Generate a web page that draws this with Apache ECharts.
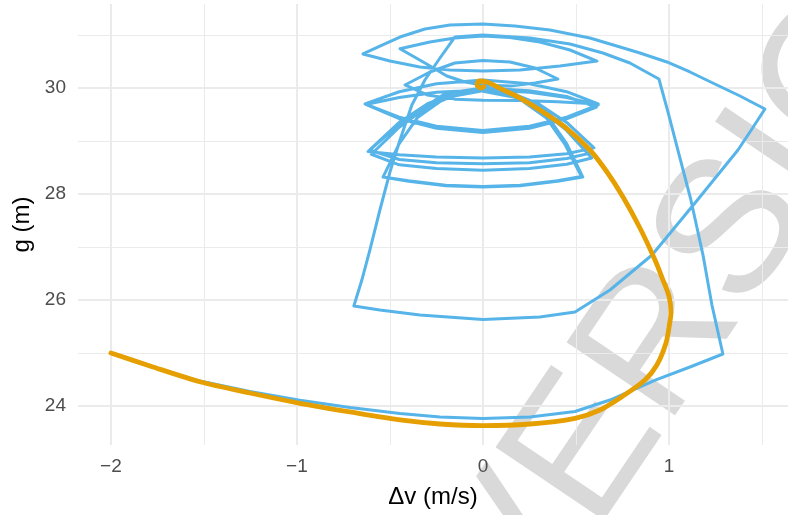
<!DOCTYPE html>
<html>
<head>
<meta charset="utf-8">
<script src="https://cdn.jsdelivr.net/npm/echarts@6/dist/echarts.min.js"></script>
<style>
  html, body { margin: 0; padding: 0; background: #ffffff; }
  #chart { width: 788px; height: 515px; }
</style>
</head>
<body>
<div id="chart"></div>
<script>
// Axis ticks and grid positions
const xTicks = [-2, -1, 0, 1];
const xMinor = [-1.5, -0.5, 0.5, 1.5];
const yTicks = [24, 26, 28, 30];
const yMinor = [23, 25, 27, 29, 31];

// Smooth trajectory (relative speed, gap)
const orangePath = [
  [-2.000, 25.000], [-1.790, 24.755], [-1.522, 24.458], [-1.253, 24.245],
  [-0.984, 24.051], [-0.715, 23.887], [-0.446, 23.736], [-0.231, 23.660],
  [0.000, 23.628], [0.253, 23.660], [0.495, 23.768], [0.629, 23.925],
  [0.753, 24.189], [0.871, 24.491], [0.935, 24.774], [0.984, 25.189],
  [1.005, 25.585], [1.011, 25.755], [1.000, 26.075], [0.968, 26.377],
  [0.925, 26.755], [0.844, 27.358], [0.753, 27.943], [0.667, 28.415],
  [0.575, 28.830], [0.441, 29.264], [0.306, 29.585], [0.199, 29.811],
  [0.091, 29.994], [0.022, 30.113], [-0.022, 30.132], [-0.032, 30.057],
  [-0.011, 30.000], [0.005, 30.028]
];

// Oscillating trajectory, split into its regimes
const blueApproach = [
  [-2.000, 25.000], [-1.790, 24.755], [-1.522, 24.470], [-1.253, 24.275],
  [-0.984, 24.108], [-0.715, 23.972], [-0.446, 23.858], [-0.231, 23.792],
  [0.000, 23.764], [0.253, 23.792], [0.495, 23.896], [0.683, 24.113],
  [0.930, 24.491], [1.113, 24.736], [1.290, 24.981]
];
const blueRise = [
  [1.231, 25.906], [1.183, 26.849], [1.118, 27.887], [1.048, 28.830],
  [0.995, 29.547], [0.946, 30.170]
];
const blueTopArc = [
  [0.790, 30.472], [0.645, 30.660], [0.468, 30.830], [0.253, 30.943],
  [0.000, 31.000], [-0.151, 30.962]
];
const blueDrop = [
  [-0.231, 30.566], [-0.312, 30.151], [-0.382, 29.679], [-0.446, 29.019],
  [-0.500, 28.415], [-0.554, 27.698], [-0.608, 26.943], [-0.651, 26.377],
  [-0.694, 25.887]
];
const blueLowArc = [
  [-0.554, 25.811], [-0.339, 25.717], [0.000, 25.632], [0.306, 25.679],
  [0.495, 25.774]
];
const blueClimb = [
  [0.683, 26.189], [0.909, 26.849], [1.140, 27.830], [1.371, 28.830],
  [1.446, 29.226], [1.516, 29.604]
];
const blueOuterArc = [
  [1.382, 29.849], [1.258, 30.057], [1.113, 30.302], [0.989, 30.491],
  [0.844, 30.660], [0.737, 30.774], [0.575, 30.943], [0.360, 31.094],
  [0.172, 31.170], [0.000, 31.208], [-0.177, 31.189], [-0.312, 31.113],
  [-0.446, 30.962], [-0.554, 30.792], [-0.645, 30.642]
];
// Upper lenses, shrinking toward the middle
const blueUpperLenses = [
  [-0.500, 30.509], [-0.339, 30.396], [-0.177, 30.340], [0.000, 30.321],
  [0.199, 30.340], [0.414, 30.415], [0.613, 30.509],
  [0.468, 30.717], [0.306, 30.868], [0.145, 30.953], [0.000, 30.981],
  [-0.151, 30.943], [-0.285, 30.868], [-0.446, 30.742],
  [-0.312, 30.472], [-0.194, 30.226], [-0.097, 30.113], [0.000, 30.057],
  [0.145, 30.038], [0.280, 30.094], [0.403, 30.170],
  [0.280, 30.377], [0.145, 30.491], [0.000, 30.519], [-0.151, 30.472],
  [-0.285, 30.302], [-0.419, 30.057],
  [-0.300, 29.870], [-0.150, 29.790], [0.000, 29.770], [0.200, 29.765],
  [0.400, 29.740], [0.620, 29.700],
  [0.450, 29.930], [0.250, 30.080], [0.000, 30.150], [-0.250, 30.080],
  [-0.450, 29.930], [-0.634, 29.700]
];
// Middle lenses
const blueMiddleLenses = [
  [-0.450, 29.450], [-0.250, 29.280], [0.000, 29.200], [0.250, 29.280],
  [0.450, 29.450], [0.620, 29.680],
  [0.450, 29.820], [0.250, 29.920], [0.000, 29.960], [-0.250, 29.920],
  [-0.450, 29.820], [-0.630, 29.690],
  [-0.450, 29.420], [-0.250, 29.240], [0.000, 29.160], [0.250, 29.240],
  [0.450, 29.420], [0.610, 29.640],
  [0.450, 29.840], [0.250, 29.950], [0.000, 30.000], [-0.200, 29.900],
  [-0.400, 29.450], [-0.520, 29.100], [-0.618, 28.800]
];
// Lower lenses and domes, settling into a repeating cycle
const blueLowerCycles = [
  [-0.450, 28.740], [-0.250, 28.700], [0.000, 28.680], [0.250, 28.700],
  [0.450, 28.760], [0.597, 28.870],
  [0.450, 29.350], [0.300, 29.700], [0.150, 29.910], [0.000, 29.980],
  [-0.150, 29.910], [-0.300, 29.700], [-0.450, 29.350], [-0.610, 28.830],
  [-0.450, 28.650], [-0.250, 28.590], [0.000, 28.570], [0.250, 28.590],
  [0.450, 28.670], [0.590, 28.780],
  [0.450, 29.260], [0.300, 29.640], [0.150, 29.870], [0.000, 29.950],
  [-0.150, 29.870], [-0.300, 29.640], [-0.450, 29.260], [-0.600, 28.750],
  [-0.450, 28.550], [-0.250, 28.480], [0.000, 28.450], [0.250, 28.480],
  [0.450, 28.560], [0.585, 28.680],
  [0.450, 29.200], [0.300, 29.620], [0.150, 29.870], [0.000, 29.960],
  [-0.200, 29.820], [-0.350, 29.450], [-0.450, 28.950], [-0.537, 28.320],
  [-0.400, 28.240], [-0.200, 28.155], [0.000, 28.130], [0.200, 28.155],
  [0.400, 28.240], [0.537, 28.320],
  [0.450, 28.950], [0.350, 29.450], [0.200, 29.820], [0.000, 29.950],
  [-0.200, 29.820], [-0.350, 29.450], [-0.450, 28.950], [-0.537, 28.320],
  [-0.400, 28.250], [-0.200, 28.165], [0.000, 28.140], [0.200, 28.165],
  [0.400, 28.250], [0.530, 28.330],
  [0.440, 28.940], [0.340, 29.440], [0.190, 29.810], [0.000, 29.940]
];

const bluePath = [].concat(blueApproach, blueRise, blueTopArc, blueDrop,
  blueLowArc, blueClimb, blueOuterArc, blueUpperLenses, blueMiddleLenses,
  blueLowerCycles);

const minus = v => String(v).replace('-', '\u2212');
const gridColor = '#ebebeb';

const gridLines = []
  .concat(xMinor.map(v => ({ xAxis: v, lineStyle: { width: 1 } })))
  .concat(yMinor.map(v => ({ yAxis: v, lineStyle: { width: 1 } })))
  .concat(xTicks.map(v => ({ xAxis: v, lineStyle: { width: 2 } })))
  .concat(yTicks.map(v => ({ yAxis: v, lineStyle: { width: 2 } })));

const chart = echarts.init(document.getElementById('chart'), null, { renderer: 'canvas' });
chart.setOption({
  animation: false,
  backgroundColor: '#ffffff',
  textStyle: { fontFamily: 'Liberation Sans, Arial, sans-serif' },
  grid: { left: 78, right: 0, top: 4, bottom: 70, containLabel: false },
  xAxis: {
    type: 'value', min: -2.177, max: 1.64, z: 5,
    axisLine: { show: false }, axisTick: { show: false },
    splitLine: { show: false },
    axisLabel: { customValues: xTicks, formatter: minus, color: '#4d4d4d', fontSize: 19, margin: 12 },
    name: '\u0394v (m/s)', nameLocation: 'middle', nameGap: 40,
    nameTextStyle: { color: '#000000', fontSize: 24 }
  },
  yAxis: {
    type: 'value', min: 23.264, max: 31.585, z: 5,
    axisLine: { show: false }, axisTick: { show: false },
    splitLine: { show: false },
    axisLabel: { customValues: yTicks, formatter: minus, color: '#4d4d4d', fontSize: 19, margin: 12 },
    name: 'g (m)', nameLocation: 'middle', nameGap: 44,
    nameTextStyle: { color: '#000000', fontSize: 24 }
  },
  graphic: [{
    // watermark across the plot
    type: 'text', z: -5, x: 481, y: 609, rotation: 56 * Math.PI / 180,
    silent: true,
    style: { text: 'VERSION', font: '190px "Liberation Sans", Arial, sans-serif', fill: '#d9d9d9',
      align: 'left', verticalAlign: 'middle' }
  }],
  series: [
    {
      type: 'line', data: [], silent: true, z: 0,
      markLine: { silent: true, symbol: 'none', label: { show: false }, z: 0,
        lineStyle: { color: gridColor, type: 'solid' }, data: gridLines }
    },
    {
      type: 'line', data: bluePath, showSymbol: false, z: 3,
      lineStyle: { color: '#56B4E9', width: 3, join: 'round', cap: 'round' }
    },
    {
      type: 'line', data: orangePath, showSymbol: false, smooth: 0.3, z: 4,
      lineStyle: { color: '#E69F00', width: 4.8, join: 'round', cap: 'round' }
    }
  ]
});
</script>
</body>
</html>
